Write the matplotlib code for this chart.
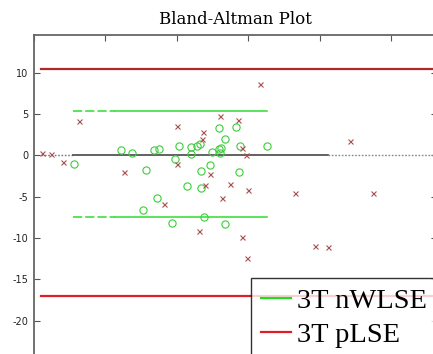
import matplotlib
matplotlib.use('Agg')
import matplotlib.pyplot as plt
from matplotlib.lines import Line2D

plt.rcParams['axes.unicode_minus'] = False

# 3T nWLSE differences (green circles)
green_x = [5.7, 12.3, 13.7, 15.7, 16.9, 17.5, 17.3, 15.3, 19.3, 19.8, 20.4, 21.5, 22.0, 22.0, 22.9, 23.3,
           23.4, 23.4, 23.9, 24.7, 25.0, 25.9, 25.9, 28.3, 26.8, 26.2, 26.1, 28.8, 32.6, 28.7, 26.8]
green_y = [-1.0, 0.7, 0.3, -1.8, 0.7, 0.8, -5.2, -6.6, -8.2, -0.5, 1.1, -3.7, 1.0, 0.2, 1.1, 1.4,
           -1.9, -4.0, -7.4, -1.2, 0.4, 3.3, 0.8, 3.4, 2.0, 0.9, 0.3, 1.1, 1.1, -2.0, -8.3]

# 3T pLSE differences (red crosses)
red_x = [1.2, 2.5, 4.1, 6.4, 12.6, 18.2, 20.1, 20.1, 23.7, 23.6, 24.7, 24.0, 23.2, 26.1, 28.6, 29.2,
         29.7, 27.5, 30.0, 26.4, 36.6, 44.2, 47.4, 29.2, 39.3, 41.2, 29.8, 31.6]
red_y = [0.3, 0.2, -0.8, 4.2, -2.0, -5.9, 3.5, -1.1, 2.8, 2.0, -2.2, -3.6, -9.2, 4.8, 4.3, 0.9,
         0.0, -3.5, -4.2, -5.1, -4.6, 1.7, -4.5, -9.9, -11.0, -11.1, -12.4, 8.6]

# limits of agreement
nwlse_loa = [5.37, -7.41]
nwlse_span = [5.5, 11.4, 32.6]   # dashed start, solid start, end
plse_loa = [10.45, -17.0]
plse_span = [1.05, 56.4]
zero_span = [1.0, 5.5, 41.1, 56.4]

legend_labels = ['3T nWLSE', '3T pLSE']
yticks = [-20, -15, -10, -5, 0, 5, 10]

fig = plt.figure(figsize=(4.33, 3.54), dpi=100)
ax = fig.add_axes([33.5 / 433, 1 - 362 / 354, (437 - 33.5) / 433, 327 / 354])

green = '#2edc2e'
red_dark = '#b02828'
red = '#e01e28'

# zero line
ax.plot(zero_span[:2], [0, 0], color='#777777', lw=1, ls=(0, (1.2, 1.2)))
ax.plot(zero_span[1:3], [0, 0], color='#555555', lw=1.3)
ax.plot(zero_span[2:], [0, 0], color='#888888', lw=1, ls=(0, (1.2, 1.2)))

# pLSE limits
ax.plot(plse_span, [plse_loa[0]] * 2, color=red_dark, lw=1.6)
ax.plot(plse_span, [plse_loa[1]] * 2, color=red, lw=1.6)

# nWLSE limits
for v in nwlse_loa:
    ax.plot(nwlse_span[:2], [v, v], color=green, lw=1.1, ls=(0, (6, 2)))
    ax.plot(nwlse_span[1:], [v, v], color=green, lw=1.1)

ax.plot(green_x, green_y, 'o', mfc='none', mec='#3ccc3c', ms=5.2, mew=0.8)
ax.plot(red_x, red_y, 'x', color='#a85050', ms=3.6, mew=0.8)

ax.set_xlim(0, 56.4)
ax.set_ylim(-25, 14.56)
ax.set_xticks([0, 10, 20, 30, 40, 50])
ax.set_yticks(yticks)
ax.tick_params(direction='in', length=4, width=0.8, color='#555555', labelsize=7,
               labelcolor='#222222', top=True, right=True, labelbottom=False)
for s in ax.spines.values():
    s.set_color('#666666')
    s.set_linewidth(1.3)

ax.set_title('Bland-Altman Plot', family='DejaVu Serif', fontsize=12, pad=8)

handles = [Line2D([], [], color='#22dd22', lw=1.6), Line2D([], [], color=red, lw=1.6)]
leg = fig.legend(handles, legend_labels, loc='upper left', bbox_to_anchor=(251 / 433, 1 - 278 / 354),
                 bbox_transform=fig.transFigure, borderaxespad=0, frameon=True, fancybox=False,
                 prop={'family': 'Liberation Serif', 'size': 20.5}, handlelength=1.05,
                 handletextpad=0.2, labelspacing=0.3, borderpad=0.35)
leg.get_frame().set_edgecolor('black')
leg.get_frame().set_linewidth(1.0)

fig.savefig('out.png', dpi=100)
